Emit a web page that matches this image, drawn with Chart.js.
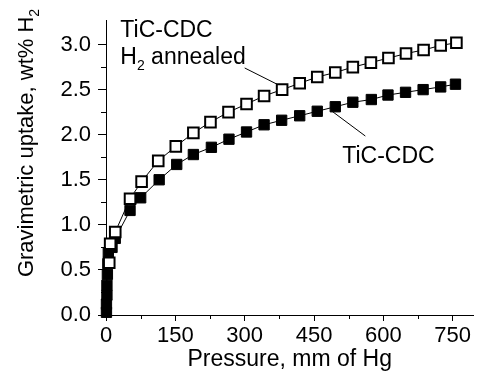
<!DOCTYPE html>
<html>
<head>
<meta charset="utf-8">
<title>Gravimetric uptake</title>
<script src="https://cdn.jsdelivr.net/npm/chart.js@4.4.0/dist/chart.umd.min.js"></script>
<style>
    html, body { margin: 0; padding: 0; background: #fff; }
    #wrap { width: 483px; height: 381px; position: relative; }
</style>
</head>
<body>
<div id="wrap"><canvas id="chart"></canvas></div>
<script>
'use strict'

// Data
const pressureAnnealed = [7, 9, 20, 52, 77, 113, 151, 189, 226, 265, 304, 342, 381, 419, 457, 496, 534, 573, 611, 649, 687, 724, 758];
const uptakeAnnealed = [0.58, 0.79, 0.92, 1.29, 1.48, 1.71, 1.87, 2.02, 2.14, 2.25, 2.34, 2.43, 2.50, 2.57, 2.64, 2.69, 2.75, 2.80, 2.85, 2.90, 2.94, 2.99, 3.02];

const pressurePlain = [1, 1, 2, 2, 3, 4, 5, 13, 20, 52, 75, 115, 153, 189, 228, 266, 304, 342, 380, 419, 457, 496, 534, 574, 610, 648, 686, 724, 756];
const uptakePlain = [0.03, 0.12, 0.22, 0.33, 0.45, 0.57, 0.69, 0.75, 0.85, 1.16, 1.30, 1.50, 1.67, 1.78, 1.86, 1.95, 2.03, 2.11, 2.16, 2.21, 2.26, 2.31, 2.36, 2.39, 2.44, 2.47, 2.50, 2.53, 2.56];

const xTicks = [0, 150, 300, 450, 600, 750];
const xMinor = [75, 225, 375, 525, 675];
const yTicks = [0, 0.5, 1.0, 1.5, 2.0, 2.5, 3.0];
const yMinor = [0.25, 0.75, 1.25, 1.75, 2.25, 2.75];

const FONT = "'Liberation Sans', Arial, sans-serif";
const TICK_FS = 22;
const TEXT_FS = 23;

const toPoints = (xs, ys) => xs.map((v, i) => ({x: v, y: ys[i]}));

// text with an optional subscript, drawn left to right from (x, y)
function subText(ctx, parts, x, y, fs) {
    let cx = x;
    parts.forEach(p => {
        if (p.sub) {
            ctx.font = Math.round(fs * 0.62) + 'px ' + FONT;
            ctx.fillText(p.t, cx, y + fs * 0.28);
        } else {
            ctx.font = fs + 'px ' + FONT;
            ctx.fillText(p.t, cx, y);
        }
        cx += ctx.measureText(p.t).width;
    });
    return cx - x;
}

function measureParts(ctx, parts, fs) {
    let w = 0;
    parts.forEach(p => {
        ctx.font = (p.sub ? Math.round(fs * 0.62) : fs) + 'px ' + FONT;
        w += ctx.measureText(p.t).width;
    });
    return w;
}

const decor = {
    id: 'decor',
    afterDraw(chart) {
        const {ctx, chartArea, scales: {x, y}} = chart;
        ctx.save();
        ctx.strokeStyle = '#000';
        ctx.fillStyle = '#000';
        ctx.lineWidth = 1;

        // minor ticks
        xMinor.forEach(v => {
            const px = Math.round(x.getPixelForValue(v)) + 0.5;
            ctx.beginPath();
            ctx.moveTo(px, chartArea.bottom);
            ctx.lineTo(px, chartArea.bottom + 4);
            ctx.stroke();
        });
        yMinor.forEach(v => {
            const py = Math.round(y.getPixelForValue(v)) + 0.5;
            ctx.beginPath();
            ctx.moveTo(chartArea.left, py);
            ctx.lineTo(chartArea.left - 5, py);
            ctx.stroke();
        });

        // leader lines
        const line = (a, b) => {
            ctx.beginPath();
            ctx.moveTo(x.getPixelForValue(a[0]), y.getPixelForValue(a[1]));
            ctx.lineTo(x.getPixelForValue(b[0]), y.getPixelForValue(b[1]));
            ctx.stroke();
        };
        line([300, 2.74], [370, 2.56]);
        line([489, 2.26], [561, 1.985]);

        // annotations
        ctx.textBaseline = 'alphabetic';
        ctx.textAlign = 'left';
        subText(ctx, [{t: 'TiC-CDC'}], x.getPixelForValue(31), y.getPixelForValue(3.08), TEXT_FS);
        subText(ctx, [{t: 'H'}, {t: '2', sub: true}, {t: ' annealed'}], x.getPixelForValue(31), y.getPixelForValue(2.785), TEXT_FS);
        subText(ctx, [{t: 'TiC-CDC'}], x.getPixelForValue(511), y.getPixelForValue(1.684), TEXT_FS);

        // y axis title
        const parts = [{t: 'Gravimetric uptake, wt% H'}, {t: '2', sub: true}];
        const w = measureParts(ctx, parts, TICK_FS);
        ctx.translate(33, 143 + w / 2);
        ctx.rotate(-Math.PI / 2);
        subText(ctx, parts, 0, 0, TICK_FS);
        ctx.restore();
    }
};

new Chart(document.getElementById('chart'), {
    type: 'line',
    data: {
        datasets: [{
            label: 'TiC-CDC H2 annealed',
            data: toPoints(pressureAnnealed, uptakeAnnealed),
            borderColor: '#000',
            borderWidth: 1,
            pointStyle: 'rect',
            pointRadius: 7.5,
            pointBorderWidth: 2,
            pointBackgroundColor: '#fff',
            pointBorderColor: '#000',
            clip: false
        }, {
            label: 'TiC-CDC',
            data: toPoints(pressurePlain, uptakePlain),
            borderColor: '#000',
            borderWidth: 1,
            pointStyle: 'rect',
            pointRadius: 7.3,
            pointBorderWidth: 1,
            pointBackgroundColor: '#000',
            pointBorderColor: '#000',
            clip: false
        }]
    },
    options: {
        responsive: true,
        maintainAspectRatio: false,
        animation: false,
        devicePixelRatio: 1,
        layout: {padding: {top: 18, right: 3, left: 0, bottom: 0}},
        plugins: {legend: {display: false}, tooltip: {enabled: false}},
        scales: {
            x: {
                type: 'linear',
                min: 0,
                max: 795,
                afterBuildTicks: s => { s.ticks = xTicks.map(v => ({value: v})); },
                afterFit: s => { s.height = 66; },
                grid: {drawOnChartArea: false, color: '#000', tickLength: 6},
                border: {color: '#000', width: 1},
                ticks: {color: '#000', font: {family: FONT, size: TICK_FS}, padding: 2, maxRotation: 0},
                title: {display: true, text: 'Pressure, mm of Hg', color: '#000', font: {family: FONT, size: TEXT_FS}, padding: {top: 0, bottom: 8}}
            },
            y: {
                min: 0,
                max: 3.27,
                afterBuildTicks: s => { s.ticks = yTicks.map(v => ({value: v})); },
                afterFit: s => { s.width = 106; },
                grid: {drawOnChartArea: false, color: '#000', tickLength: 8},
                border: {color: '#000', width: 1},
                ticks: {color: '#000', font: {family: FONT, size: TICK_FS}, padding: 7, callback: v => v.toFixed(1)}
            }
        }
    },
    plugins: [decor]
});
</script>
</body>
</html>
